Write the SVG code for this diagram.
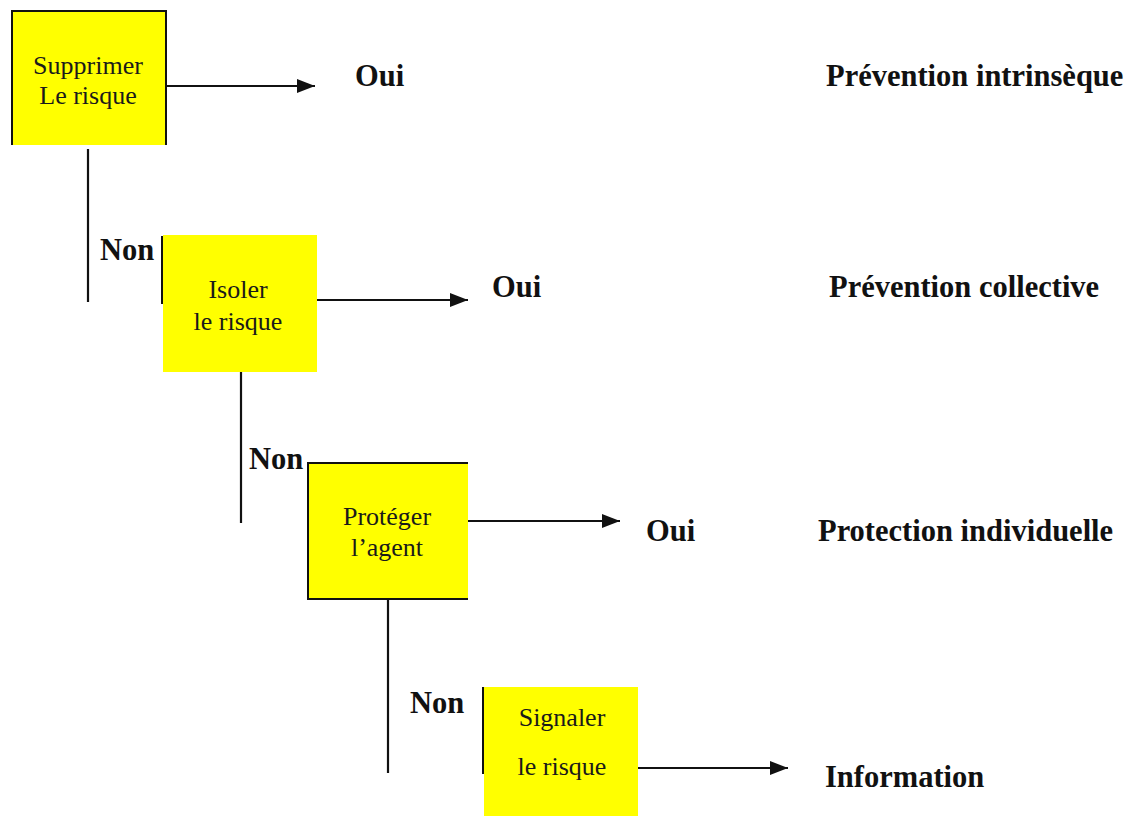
<svg xmlns="http://www.w3.org/2000/svg" width="1132" height="816" viewBox="0 0 1132 816">
<style>
.box{fill:#ffff00;stroke:none}
.edge{stroke:#111;stroke-width:2;fill:none}
.bt{font-family:"Liberation Serif","Times New Roman",serif;font-size:26px;fill:#1a1a1a;text-anchor:middle}
.lb{font-family:"Liberation Serif","Times New Roman",serif;font-size:30.5px;font-weight:bold;fill:#111}
.conn{stroke:#111;stroke-width:2.2;fill:none}
</style>
<defs>
<marker id="ah" markerUnits="userSpaceOnUse" markerWidth="18" markerHeight="14" refX="18" refY="7" orient="auto">
<path d="M0,0 L18,7 L0,14 z" fill="#111"/>
</marker>
</defs>
<rect width="1132" height="816" fill="#fff"/>
<g id="node-supprimer">
<rect class="box" x="12" y="11" width="154" height="134"/>
<path class="edge" d="M12,145 V11 H166 V145"/>
<text class="bt" x="88" y="74">Supprimer</text>
<text class="bt" x="88" y="104">Le risque</text>
</g>
<g id="node-isoler">
<rect class="box" x="163" y="235" width="154" height="137"/>
<path class="edge" d="M162,236 V304"/>
<text class="bt" x="238" y="298">Isoler</text>
<text class="bt" x="238" y="330">le risque</text>
</g>
<g id="node-proteger">
<rect class="box" x="308" y="463" width="160" height="136"/>
<path class="edge" d="M468,463 H308 V599 H468"/>
<text class="bt" x="387" y="525">Protéger</text>
<text class="bt" x="387" y="556">l’agent</text>
</g>
<g id="node-signaler">
<rect class="box" x="484" y="687" width="154" height="129"/>
<path class="edge" d="M483,687 V774"/>
<text class="bt" x="562" y="726">Signaler</text>
<text class="bt" x="562" y="775">le risque</text>
</g>
<g id="labels">
<text class="lb" x="355" y="86">Oui</text>
<text class="lb" x="826" y="86">Prévention intrinsèque</text>
<text class="lb" x="100" y="260">Non</text>
<text class="lb" x="492" y="297">Oui</text>
<text class="lb" x="829" y="297">Prévention collective</text>
<text class="lb" x="249" y="469">Non</text>
<text class="lb" x="646" y="541">Oui</text>
<text class="lb" x="818" y="541">Protection individuelle</text>
<text class="lb" x="410" y="713">Non</text>
<text class="lb" x="825" y="787">Information</text>
</g>
<g id="connectors">
<line class="conn" x1="166" y1="86" x2="315" y2="86" marker-end="url(#ah)"/>
<line class="conn" x1="88" y1="149" x2="88" y2="302"/>
<line class="conn" x1="317" y1="300" x2="468" y2="300" marker-end="url(#ah)"/>
<line class="conn" x1="241" y1="372" x2="241" y2="523"/>
<line class="conn" x1="468" y1="521" x2="620" y2="521" marker-end="url(#ah)"/>
<line class="conn" x1="388" y1="599" x2="388" y2="773"/>
<line class="conn" x1="638" y1="768" x2="788" y2="768" stroke-width="3.2" marker-end="url(#ah)"/>
</g>
</svg>
